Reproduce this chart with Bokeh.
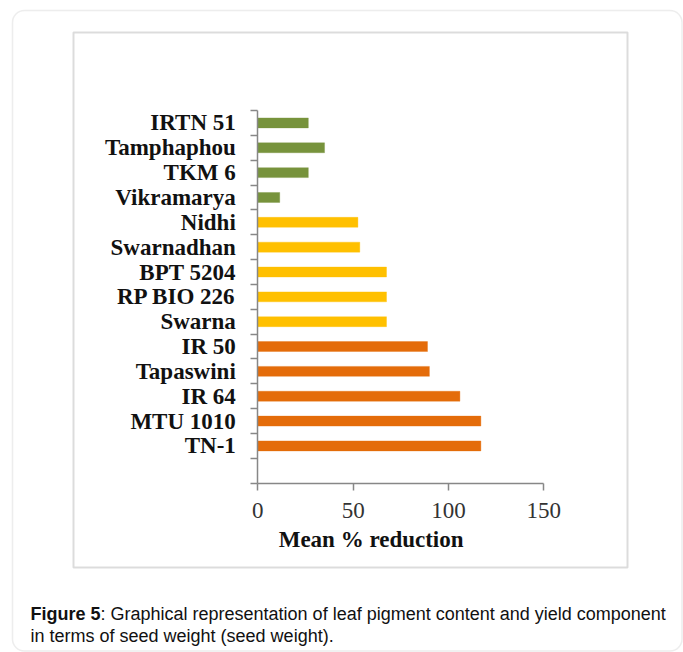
from bokeh.plotting import figure
from bokeh.models import Range1d, FixedTicker, Label, BoxAnnotation, ColumnDataSource
from bokeh.embed import file_html
from bokeh.resources import INLINE

# ---- data (top to bottom as drawn) ----
varieties = ["IRTN 51", "Tamphaphou", "TKM 6", "Vikramarya", "Nidhi", "Swarnadhan",
             "BPT 5204", "RP BIO 226", "Swarna", "IR 50", "Tapaswini", "IR 64",
             "MTU 1010", "TN-1"]
mean_reduction = [26.5, 35, 26.5, 11.5, 52.5, 53.5, 67.5, 67.5, 67.5, 89, 90, 106, 117, 117]
group = ["green"] * 4 + ["yellow"] * 5 + ["orange"] * 5
x_ticks = [0, 50, 100, 150]
x_title = "Mean  % reduction"
caption_bold = "Figure 5"
caption_rest = ": Graphical representation of leaf pigment content and yield component"
caption_line2 = "in terms of seed weight (seed weight)."

palette = {"green": "#77933C", "yellow": "#FFC000", "orange": "#E46C0A"}

# ---- layout (canvas px); the frame fills the whole canvas ----
W, H = 683, 652
XMAX, NSLOT = 150, 15
X0, X1 = 257.3, 543.3      # pixel of x = 0 and x = XMAX
Y0, Y1 = 482.7, 110.0      # pixel of slot 0 (bottom) and slot NSLOT (top)


def xd(px):
    return (px - X0) / (X1 - X0) * XMAX


def yd(py):
    return (Y0 - py) / (Y0 - Y1) * NSLOT


n = len(varieties)
ypos = [n - i + 0.5 for i in range(n)]
src = ColumnDataSource(dict(y=ypos, v=mean_reduction,
                            c=[palette[g] for g in group], name=varieties))

p = figure(width=W, height=H, min_border=0,
           x_range=Range1d(xd(0), xd(W)), y_range=Range1d(yd(H), yd(0)),
           output_backend="svg", toolbar_location=None,
           background_fill_color="white", border_fill_color="white")
p.outline_line_color = None
p.xgrid.visible = False
p.ygrid.visible = False

# boxes
p.add_layout(BoxAnnotation(left=xd(12), right=xd(681.5), top=yd(10), bottom=yd(650.5),
                           fill_alpha=0, line_color="#c4c4c4", line_width=1.5,
                           border_radius=12, level="underlay"))
p.add_layout(BoxAnnotation(left=xd(73), right=xd(627), top=yd(32), bottom=yd(567),
                           fill_alpha=0, line_color="#8c8c8c", line_width=2,
                           level="underlay"))

p.hbar(y="y", left=0, right="v", height=0.4, fill_color="c", line_color="c",
       line_alpha=0.35, line_width=1, source=src)

axis_col = "#878787"

xa = p.xaxis[0]
xa.fixed_location = 0
xa.bounds = (0, XMAX)
xa.ticker = FixedTicker(ticks=x_ticks, minor_ticks=[])
xa.axis_line_color = axis_col
xa.axis_line_width = 1.5
xa.major_tick_line_color = axis_col
xa.major_tick_line_width = 1.5
xa.major_tick_in = 0
xa.major_tick_out = 7
xa.minor_tick_line_color = None
xa.major_label_text_font = "Liberation Serif"
xa.major_label_text_font_size = "23px"
xa.major_label_text_color = "#333333"
xa.major_label_standoff = 13

ya = p.yaxis[0]
ya.fixed_location = 0
ya.bounds = (0, NSLOT)
ya.ticker = FixedTicker(ticks=ypos, minor_ticks=list(range(NSLOT + 1)))
ya.major_label_overrides = {float(y): name for y, name in zip(ypos, varieties)}
ya.axis_line_color = axis_col
ya.axis_line_width = 1.5
ya.major_tick_in = 0
ya.major_tick_out = 0
ya.major_tick_line_color = None
ya.minor_tick_in = 0
ya.minor_tick_out = 7
ya.minor_tick_line_color = axis_col
ya.minor_tick_line_width = 1.5
ya.major_label_text_font = "Liberation Serif"
ya.major_label_text_font_style = "bold"
ya.major_label_text_font_size = "23px"
ya.major_label_text_color = "#111111"
ya.major_label_standoff = 15

# axis title
p.add_layout(Label(x=xd(373.5), y=yd(539), text=x_title, text_align="center",
                   text_baseline="alphabetic", text_font="Liberation Serif",
                   text_font_style="bold", text_font_size="23px", text_color="#111111"))

# caption
p.add_layout(Label(x=xd(30), y=yd(613), text=caption_bold, text_baseline="alphabetic",
                   text_font="Liberation Sans", text_font_style="bold",
                   text_font_size="18px", text_color="#111111"))
p.add_layout(Label(x=xd(100), y=yd(613), text=caption_rest, text_baseline="alphabetic",
                   text_font="Liberation Sans", text_font_size="18px", text_color="#111111"))
p.add_layout(Label(x=xd(30), y=yd(635), text=caption_line2, text_baseline="alphabetic",
                   text_font="Liberation Sans", text_font_size="18px", text_color="#111111"))

open("out.html", "w").write(file_html(p, INLINE))
